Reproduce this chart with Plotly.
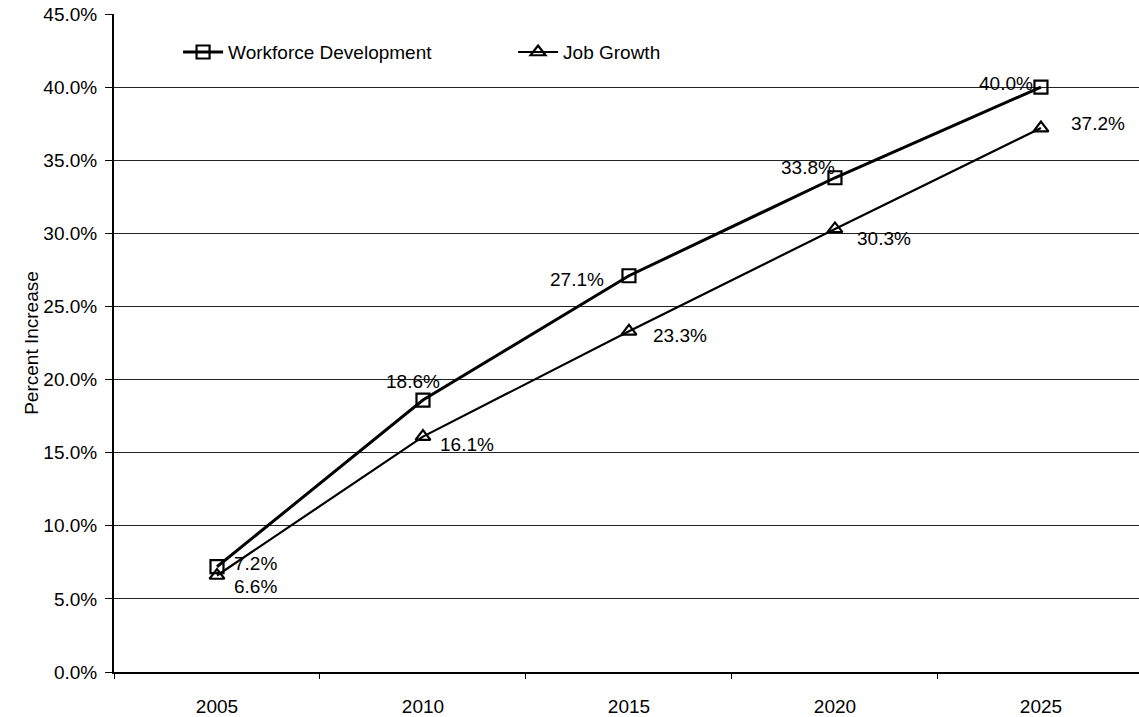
import plotly.graph_objects as go

years = ["2005", "2010", "2015", "2020", "2025"]
workforce = [7.2, 18.6, 27.1, 33.8, 40.0]
job_growth = [6.6, 16.1, 23.3, 30.3, 37.2]

# label offsets (px, right / down) relative to each point
wf_shift = [(39, -3), (-10, -19), (-52, 4), (-27, -10), (-35, -4)]
jg_shift = [(39, 11), (44, 8), (51, 4), (49, 10), (57, -5)]

y_ticks = [0, 5, 10, 15, 20, 25, 30, 35, 40, 45]
y_tick_text = [f"{v:.1f}%" for v in y_ticks]

font_family = "Liberation Sans, Arial, sans-serif"
FS = 19

fig = go.Figure()
fig.add_trace(go.Scatter(
    x=years, y=workforce, name="Workforce Development",
    mode="lines+markers",
    line=dict(color="black", width=3),
    marker=dict(symbol="square-open", size=13, color="black",
                line=dict(width=2.2, color="black")),
))
fig.add_trace(go.Scatter(
    x=years, y=job_growth, name="Job Growth",
    mode="lines+markers",
    line=dict(color="black", width=2.2),
    marker=dict(symbol="triangle-up-open", size=13, color="black",
                line=dict(width=2.2, color="black")),
))

# value labels; x given as the category index (numeric-looking
# category names would otherwise be read as positions)
annotations = []
for series, shifts in ((workforce, wf_shift), (job_growth, jg_shift)):
    for i, (v, (dx, dy)) in enumerate(zip(series, shifts)):
        annotations.append(dict(
            x=i, y=v, xref="x", yref="y",
            text=f"{v:.1f}%", showarrow=False,
            xanchor="center", yanchor="middle",
            xshift=dx, yshift=-dy,
            font=dict(size=FS, color="black", family=font_family)))

fig.update_layout(
    width=1139, height=717,
    margin=dict(l=114, r=0, t=14, b=45),
    paper_bgcolor="white", plot_bgcolor="white",
    font=dict(family=font_family, color="black", size=FS),
    showlegend=True,
    legend=dict(orientation="h", x=0.0625, y=0.942, xanchor="left", yanchor="middle",
                bgcolor="rgba(0,0,0,0)", font=dict(size=FS),
                itemwidth=40, tracegroupgap=0,
                entrywidth=280, entrywidthmode="pixels"),
    annotations=annotations,
    xaxis=dict(
        type="category", range=[-0.5, 4.476],
        tickson="boundaries", ticks="outside", ticklen=5, tickwidth=1,
        tickcolor="black", showgrid=False,
        showline=True, linecolor="black", linewidth=2,
        tickfont=dict(size=FS), ticklabelstandoff=16,
    ),
    yaxis=dict(
        range=[0, 45], tickvals=y_ticks, ticktext=y_tick_text,
        ticks="outside", ticklen=7, tickwidth=1, tickcolor="black",
        showgrid=True, gridcolor="#222222", gridwidth=1,
        showline=True, linecolor="black", linewidth=2,
        zeroline=False, tickfont=dict(size=FS), ticklabelstandoff=4,
        title=dict(text="Percent Increase", font=dict(size=19), standoff=0),
    ),
)

fig.write_html("out.html")
